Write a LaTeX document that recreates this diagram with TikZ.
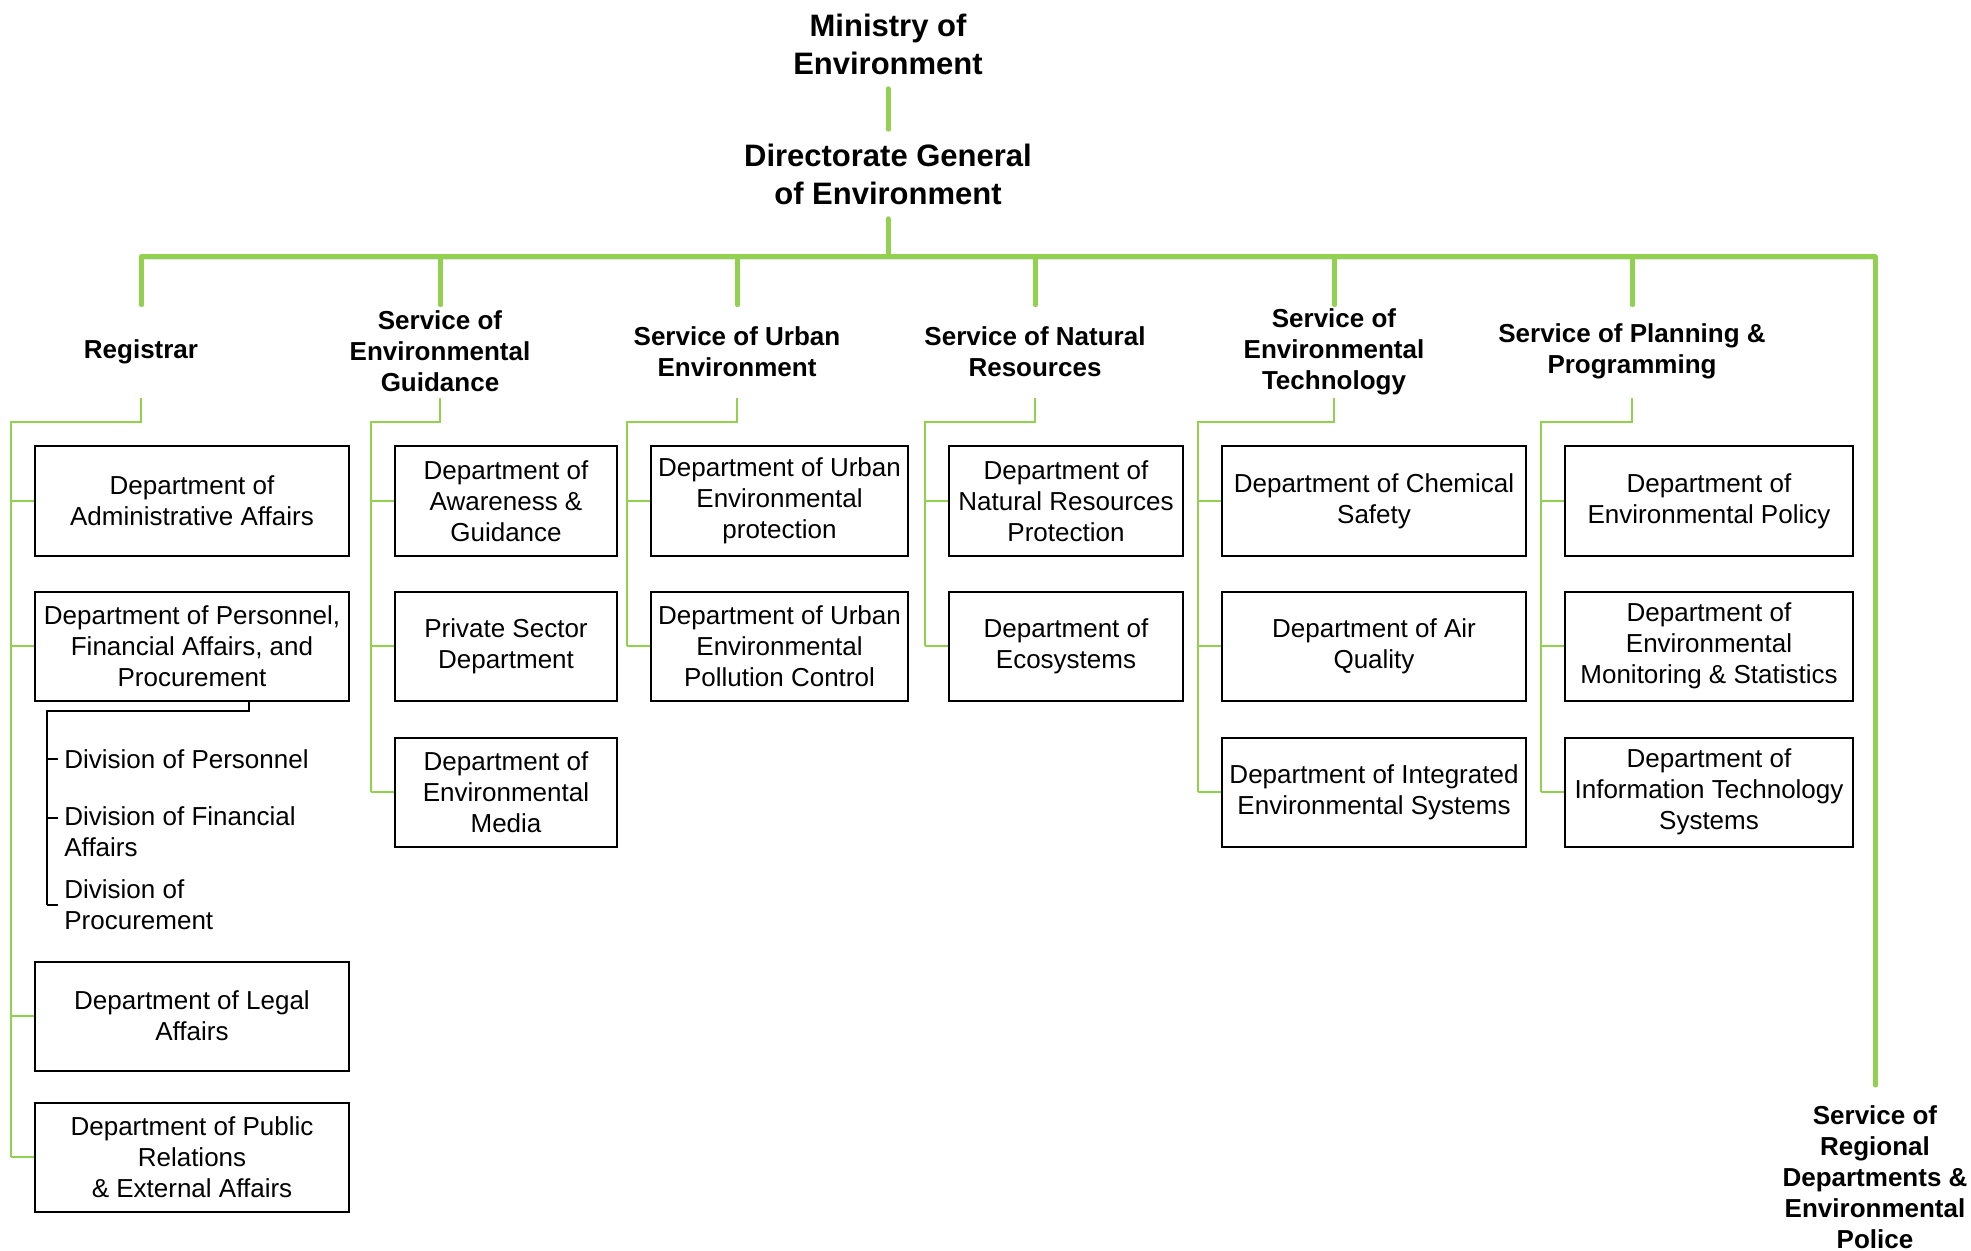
\documentclass[tikz,border=0pt]{standalone}
\usepackage{fontspec}
\setmainfont{Liberation Sans}
\usepackage{tikz}
\usetikzlibrary{positioning}
\definecolor{orggreen}{RGB}{146,208,80}

\begin{document}
\begin{tikzpicture}[x=0.5pt, y=-0.5pt, font=\fontsize{13}{15.5}\selectfont,
   head/.style={font=\fontsize{15.5}{19}\selectfont\bfseries, align=center, inner sep=7pt},
   svc/.style={font=\fontsize{13}{15.5}\selectfont\bfseries, align=center, minimum height=46.5pt, inner sep=0pt},
   dept/.style={draw, line width=1pt, align=center, minimum height=54.5pt, inner sep=2pt},
   div/.style={align=left, inner sep=3pt, anchor=west},
   trunk/.style={draw=orggreen, line width=2.5pt, line cap=round, line join=round,
      preaction={draw=black!10, transform canvas={shift={(1.2pt,-1.2pt)}}}},
   branch/.style={draw=orggreen, line width=1.3pt},
   bracket/.style={draw=black, line width=1.3pt}]
   \useasboundingbox (0,0) rectangle (1971,1251);

   \node[head] (min) at (888,44) {Ministry of\\Environment};
   \node[head] (dg) at (888,174) {Directorate General\\of Environment};
   \coordinate (bar) at (888,257);
   \coordinate (sub) at (0,422);

   \node[svc] (s1) at (141,351.5) {Registrar};
   \node[svc] (s2) at (440,351.5) {Service of\\Environmental\\Guidance};
   \node[svc] (s3) at (737,351.5) {Service of Urban\\Environment};
   \node[svc] (s4) at (1035,351.5) {Service of Natural\\Resources};
   \node[svc] (s5) at (1334,351.5) {Service of\\Environmental\\Technology};
   \node[svc] (s6) at (1632,351.5) {Service of Planning \&\\Programming};
   \node[svc, inner ysep=10pt] (reg) at (1875,1177) {Service of\\Regional\\Departments \&\\Environmental\\Police};

   \node[dept, minimum width=157pt] (d11) at (192,501) {Department of\\Administrative Affairs};
   \node[dept, minimum width=157pt] (d12) at (192,646) {Department of Personnel,\\Financial Affairs, and\\Procurement};
   \node[dept, minimum width=157pt] (d13) at (192,1016) {Department of Legal\\Affairs};
   \node[dept, minimum width=157pt] (d14) at (192,1157) {Department of Public\\Relations\\\& External Affairs};

   \node[div] (dv1) at (58,759) {Division of Personnel};
   \node[div] (dv2) at (58,832) {Division of Financial\\Affairs};
   \node[div] (dv3) at (58,905) {Division of\\Procurement};

   \node[dept, minimum width=111pt] (d21) at (506,501) {Department of\\Awareness \&\\Guidance};
   \node[dept, minimum width=111pt] (d22) at (506,646) {Private Sector\\Department};
   \node[dept, minimum width=111pt] (d23) at (506,792) {Department of\\Environmental\\Media};

   \node[dept, minimum width=128.5pt] (d31) at (779.5,501) {Department of Urban\\Environmental\\protection};
   \node[dept, minimum width=128.5pt] (d32) at (779.5,646) {Department of Urban\\Environmental\\Pollution Control};

   \node[dept, minimum width=117pt] (d41) at (1066,501) {Department of\\Natural Resources\\Protection};
   \node[dept, minimum width=117pt] (d42) at (1066,646) {Department of\\Ecosystems};

   \node[dept, minimum width=152pt] (d51) at (1374,501) {Department of Chemical\\Safety};
   \node[dept, minimum width=152pt] (d52) at (1374,646) {Department of Air\\Quality};
   \node[dept, minimum width=152pt] (d53) at (1374,792) {Department of Integrated\\Environmental Systems};

   \node[dept, minimum width=144pt] (d61) at (1709,501) {Department of\\Environmental Policy};
   \node[dept, minimum width=144pt] (d62) at (1709,646) {Department of\\Environmental\\Monitoring \& Statistics};
   \node[dept, minimum width=144pt] (d63) at (1709,792) {Department of\\Information Technology\\Systems};

   \draw[trunk] (min) -- (dg);
   \draw[trunk] (dg) -- (bar);
   \draw[trunk] (s1.north) |- (bar) -| (reg.north);
   \foreach \s in {s2,s3,s4,s5,s6}
      \draw[trunk] (\s.north) -- (\s.north |- bar);

   \draw[branch] (s1.south) -- (s1.south |- sub) -| ([xshift=-11.5pt]d14.west);
   \draw[branch] (s2.south) -- (s2.south |- sub) -| ([xshift=-11.5pt]d23.west);
   \draw[branch] (s3.south) -- (s3.south |- sub) -| ([xshift=-11.5pt]d32.west);
   \draw[branch] (s4.south) -- (s4.south |- sub) -| ([xshift=-11.5pt]d42.west);
   \draw[branch] (s5.south) -- (s5.south |- sub) -| ([xshift=-11.5pt]d53.west);
   \draw[branch] (s6.south) -- (s6.south |- sub) -| ([xshift=-11.5pt]d63.west);
   \foreach \b in {d11,d12,d13,d14,d21,d22,d23,d31,d32,d41,d42,d51,d52,d53,d61,d62,d63}
      \draw[branch] (\b.west) -- ++(-23,0);

   \coordinate (divtop) at (47,711);
   \draw[bracket] ([xshift=28.5pt]d12.south) |- (divtop) -- (divtop |- dv3.west);
   \draw[bracket, line width=1pt] (divtop |- dv1.west) -- (dv1.west);
   \draw[bracket, line width=1pt] (divtop |- dv3.west) -- (dv3.west);
   \draw[bracket, line width=1pt] ([yshift=7pt]divtop |- dv2.west) -- ([yshift=7pt]dv2.west);
\end{tikzpicture}
\end{document}
